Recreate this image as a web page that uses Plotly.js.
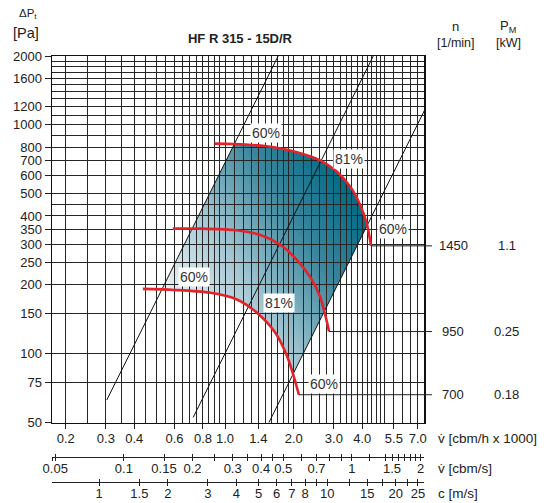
<!DOCTYPE html>
<html>
<head>
<meta charset="utf-8">
<script src="https://cdn.plot.ly/plotly-3.0.1.min.js"></script>
<style>html,body{margin:0;padding:0;background:#fff}#chart{width:546px;height:503px}</style>
</head>
<body>
<div id="chart"></div>
<script>
// ------------------------------------------------------------------ data
// fan curves: volume flow [1000 cbm/h], total pressure [Pa]
const curve1450_Q = [0.90, 1.09, 1.52, 1.99, 2.61, 3.09, 3.53, 3.91, 4.18, 4.37];
const curve1450_P = [828, 825, 806, 767, 700, 626, 539, 448, 372, 296];
const curve950_Q  = [0.59, 0.78, 1.09, 1.42, 1.74, 2.06, 2.36, 2.61, 2.74, 2.86];
const curve950_P  = [352, 352, 347, 331, 300, 258, 217, 178, 150, 125];
const curve700_Q  = [0.436, 0.598, 0.85, 1.127, 1.392, 1.659, 1.877, 2.012, 2.108];
const curve700_P  = [192, 190, 185, 172.6, 150, 123.7, 96.8, 78.3, 66.2];

// system (efficiency) lines, end points
const sysA_Q = [0.303, 1.71];  const sysA_P = [62.8, 2000];   // 60 %
const sysB_Q = [0.725, 4.47];  const sysB_P = [52.7, 2000];   // 81 %
const sysC_Q = [1.50, 7.60];   const sysC_P = [46.4, 1190];   // 60 %

// efficiency labels
const effText = ['60%', '81%', '60%', '60%', '81%', '60%'];
const effQ    = [1.51, 3.50, 5.47, 0.73, 1.72, 2.73];
const effP    = [925, 710, 350, 217, 167, 73.5];

// speed / motor power per curve
const speeds     = ['1450', '950', '700'];
const motorPower = ['1.1', '0.25', '0.18'];

// axis ticks
const qTickVals  = [0.2, 0.3, 0.4, 0.6, 0.8, 1.0, 1.4, 2.0, 3.0, 4.0, 5.5, 7.0];
const qTickText  = ['0.2', '0.3', '0.4', '0.6', '0.8', '1.0', '1.4', '2.0', '3.0', '4.0', '5.5', '7.0'];
const qGridMinor = [0.25, 0.35, 0.45, 0.5, 0.55, 0.65, 0.7, 0.75, 0.85, 0.9, 0.95,
                    1.1, 1.2, 1.3, 1.5, 1.6, 1.7, 1.8, 1.9, 2.2, 2.4, 2.6, 2.8,
                    3.2, 3.4, 3.6, 3.8, 4.2, 4.4, 4.6, 4.8, 5.0, 6.0, 6.5];
const pTickVals  = [50, 75, 100, 150, 200, 250, 300, 350, 400, 500, 600, 700, 800, 1000, 1200, 1600, 2000];
const pTickText  = ['50', '75', '100', '150', '200', '250', '300', '350', '400', '500', '600', '700', '800', '1000', '1200', '1600', '2000'];
const pGridMinor = [450, 900, 1100, 1300, 1400, 1500, 1700, 1800, 1900];
const vsTickVals = [0.0487, 0.05, 0.1, 0.15, 0.2, 0.25, 0.3, 0.35, 0.4, 0.45, 0.5, 0.6, 0.7, 0.8, 0.9, 1, 1.2, 1.4, 1.5, 1.6, 1.7, 1.8, 1.9, 2];
const vsTickText = ['', '0.05', '0.1', '0.15', '0.2', '', '0.3', '', '0.4', '', '0.5', '', '0.7', '', '', '1', '', '', '1.5', '', '', '', '', '2'];
const cTickVals  = [1, 1.5, 2, 3, 4, 5, 6, 7, 8, 9, 10, 12.5, 15, 17.5, 20, 22.5, 25];
const cTickText  = ['1', '1.5', '2', '3', '4', '5', '6', '7', '8', '', '10', '', '15', '', '20', '', '25'];

// ------------------------------------------------------------------ settings
const FONT = 'Liberation Sans, Arial, Helvetica, sans-serif';
const TXT = '#222';
const qMin = 0.1742, qMax = 7.458, pMin = 50, pMax = 2000;
const toCbmPerS = 1 / 3.6;                        // 1000 cbm/h -> cbm/s
const ductArea = Math.PI * 0.315 * 0.315 / 4;     // m^2
const toVel = toCbmPerS / ductArea;               // 1000 cbm/h -> m/s
const L = Math.log10;

// ------------------------------------------------------------------ shaded operating area
function pts(Q, P) { return Q.map((q, i) => [L(q), L(P[i])]); }
function cross(o, a, b) { return (a[0]-o[0])*(b[1]-o[1]) - (a[1]-o[1])*(b[0]-o[0]); }
function hitLine(curve, line) {
  for (let i = 0; i < curve.length - 1; i++) {
    const sa = cross(line[0], line[1], curve[i]);
    const sb = cross(line[0], line[1], curve[i+1]);
    if ((sa <= 0 && sb > 0) || (sa >= 0 && sb < 0)) {
      const t = sa / (sa - sb);
      return {i: i, p: [curve[i][0] + t*(curve[i+1][0]-curve[i][0]), curve[i][1] + t*(curve[i+1][1]-curve[i][1])]};
    }
  }
  return null;
}
const topC = pts(curve1450_Q, curve1450_P), botC = pts(curve700_Q, curve700_P);
const lineA = pts(sysA_Q, sysA_P), lineC = pts(sysC_Q, sysC_P);
const hTA = hitLine(topC, lineA), hTC = hitLine(topC, lineC);
const hBC = hitLine(botC, lineC), hBA = hitLine(botC, lineA);
const region = [hTA.p];
for (let i = hTA.i + 1; i <= hTC.i; i++) region.push(topC[i]);
region.push(hTC.p, hBC.p);
for (let i = hBC.i; i > hBA.i; i--) region.push(botC[i]);
region.push(hBA.p);

function clipHalf(poly, f, keepGE, c) {
  const out = [];
  for (let i = 0; i < poly.length; i++) {
    const A = poly[i], B = poly[(i+1) % poly.length];
    const fa = f(A) - c, fb = f(B) - c;
    const ina = keepGE ? fa >= 0 : fa <= 0;
    const inb = keepGE ? fb >= 0 : fb <= 0;
    if (ina) out.push(A);
    if (ina !== inb) { const t = fa / (fa - fb); out.push([A[0] + t*(B[0]-A[0]), A[1] + t*(B[1]-A[1])]); }
  }
  return out;
}
const GW = 1.6;
const gOf = p => GW * p[0] + p[1];
let gmin = Infinity, gmax = -Infinity;
region.forEach(p => { const g = gOf(p); gmin = Math.min(gmin, g); gmax = Math.max(gmax, g); });
const rampStops = [[0, [236, 243, 246]], [0.35, [165, 199, 211]], [0.7, [58, 134, 156]], [1, [0, 106, 132]]];
function ramp(t) {
  for (let k = 1; k < rampStops.length; k++) {
    if (t <= rampStops[k][0]) {
      const a = rampStops[k-1], b = rampStops[k], f = (t - a[0]) / (b[0] - a[0]);
      return 'rgb(' + [0,1,2].map(j => Math.round(a[1][j] + f*(b[1][j]-a[1][j]))).join(',') + ')';
    }
  }
  return 'rgb(' + rampStops[rampStops.length-1][1].join(',') + ')';
}
const shapes = [];
const NB = 56;
for (let b = 0; b < NB; b++) {
  const lo = gmin + (gmax - gmin) * b / NB - (b === 0 ? 0.01 : 0);
  const hi = gmin + (gmax - gmin) * (b + 1) / NB + (b === NB - 1 ? 0.01 : 0.006);
  let poly = clipHalf(region, gOf, true, lo);
  poly = clipHalf(poly, gOf, false, hi);
  if (poly.length < 3) continue;
  const path = 'M ' + poly.map(p => Math.pow(10, p[0]).toPrecision(7) + ',' + Math.pow(10, p[1]).toPrecision(7)).join(' L ') + ' Z';
  shapes.push({type: 'path', xref: 'x', yref: 'y', layer: 'below', path: path,
               fillcolor: ramp((b + 0.5) / NB), line: {width: 0}});
}

// ------------------------------------------------------------------ traces
const red = '#e3232a';
const traces = [];
[[sysA_Q, sysA_P], [sysB_Q, sysB_P], [sysC_Q, sysC_P]].forEach(s => traces.push({
  x: s[0], y: s[1], type: 'scatter', mode: 'lines', line: {color: '#111', width: 1},
  hoverinfo: 'skip', showlegend: false
}));
const curves = [[curve1450_Q, curve1450_P], [curve950_Q, curve950_P], [curve700_Q, curve700_P]];
curves.forEach(c => traces.push({
  x: c[0], y: c[1], type: 'scatter', mode: 'lines',
  line: {color: red, width: 2.6, shape: 'spline', smoothing: 0.8},
  hoverinfo: 'skip', showlegend: false
}));
// carriers for the secondary bottom scales
[['x2', 1], ['x3', 5], ['x4', 1], ['x5', 5]].forEach(d => traces.push({
  x: [d[1]], y: [100], xaxis: d[0], yaxis: 'y', type: 'scatter', mode: 'markers',
  marker: {opacity: 0}, hoverinfo: 'skip', showlegend: false
}));

// ------------------------------------------------------------------ leaders + labels
const annotations = [];
const rightEdge = 1.0215;
curves.forEach((c, k) => {
  const qe = c[0][c[0].length - 1], pe = c[1][c[1].length - 1];
  shapes.push({type: 'line', xref: 'x', yref: 'y', x0: qe, x1: qMax, y0: pe, y1: pe, line: {color: TXT, width: 1}});
  shapes.push({type: 'line', xref: 'paper', yref: 'y', x0: 1, x1: rightEdge, y0: pe, y1: pe, line: {color: TXT, width: 1}});
  annotations.push({xref: 'paper', yref: 'y', x: 1.078, y: L(pe), text: speeds[k], showarrow: false,
                    xanchor: 'center', yanchor: 'middle', font: {family: FONT, size: 13, color: TXT}});
  annotations.push({xref: 'paper', yref: 'y', x: 1.223, y: L(pe), text: motorPower[k], showarrow: false,
                    xanchor: 'center', yanchor: 'middle', font: {family: FONT, size: 13, color: TXT}});
});
effText.forEach((t, i) => annotations.push({
  xref: 'x', yref: 'y', x: L(effQ[i]), y: L(effP[i]), text: t, showarrow: false,
  bgcolor: '#fff', borderpad: 1, xanchor: 'center', yanchor: 'middle',
  font: {family: FONT, size: 14, color: '#333'}
}));
function hdr(x, y, text, size) {
  annotations.push({xref: 'paper', yref: 'paper', x: x, y: y, text: text, showarrow: false,
                    xanchor: 'center', yanchor: 'middle', font: {family: FONT, size: size, color: TXT}});
}
hdr(-0.064, 1.0957, '\u0394P<sub>t</sub>', 11.5);
hdr(-0.070, 1.0524, '[Pa]', 14.5);
hdr(1.086, 1.0683, 'n', 13);
hdr(1.086, 1.0296, '[1/min]', 12.5);
hdr(1.226, 1.0683, 'P<sub>M</sub>', 13);
hdr(1.226, 1.0296, '[kW]', 12.5);
function unit(y, text) {
  annotations.push({xref: 'paper', yref: 'paper', x: 1.032, y: y, text: text, showarrow: false,
                    xanchor: 'left', yanchor: 'middle', font: {family: FONT, size: 13.5, color: TXT}});
}
unit(0.1298, 'v\u0307 [cbm/h x 1000]');
unit(0.0615, 'v\u0307 [cbm/s]');
unit(0.0023, 'c [m/s]');

// ------------------------------------------------------------------ layout
const qRange = [L(qMin), L(qMax)];
const tickFont = {family: FONT, size: 13, color: TXT};
const GRID = '#262626';
function secAxis(range, vals, text, pos, inside) {
  return {type: 'log', range: range, overlaying: 'x', anchor: 'free', position: pos, side: 'bottom',
          showline: !inside, linecolor: TXT, linewidth: 1, showgrid: false, zeroline: false,
          tickmode: 'array', tickvals: vals, ticktext: text, tickangle: 0,
          ticks: inside ? 'inside' : 'outside', ticklen: 3, tickwidth: 1, tickcolor: TXT,
          showticklabels: !inside, tickfont: tickFont, ticklabelstandoff: -4, fixedrange: true};
}
const vsRange = qRange.map(v => v + L(toCbmPerS));
const cRange = qRange.map(v => v + L(toVel));

const layout = {
  width: 546, height: 503,
  margin: {l: 52, r: 122, t: 56, b: 8, pad: 0},
  paper_bgcolor: '#fff', plot_bgcolor: '#fff',
  font: {family: FONT, color: TXT},
  showlegend: false,
  title: {text: '<b>HF R 315 - 15D/R</b>', x: 240 / 546, xanchor: 'center', y: 1 - 38 / 503, yanchor: 'middle',
          xref: 'container', yref: 'container', font: {family: FONT, size: 13, color: TXT}},
  xaxis: {type: 'log', range: qRange, showline: true, mirror: true, linecolor: '#111', linewidth: 1.5,
          showgrid: true, gridcolor: GRID, gridwidth: 1, zeroline: false,
          tickmode: 'array', tickvals: qTickVals, ticktext: qTickText, tickangle: 0,
          ticks: 'outside', ticklen: 5, tickwidth: 1, tickcolor: TXT, tickfont: tickFont, ticklabelstandoff: -2,
          minor: {tickmode: 'array', tickvals: qGridMinor, showgrid: true, gridcolor: GRID, gridwidth: 1, ticks: ''},
          fixedrange: true},
  yaxis: {type: 'log', range: [L(pMin), L(pMax)], domain: [0.1649, 1],
          showline: true, mirror: true, linecolor: '#111', linewidth: 1.5,
          showgrid: true, gridcolor: GRID, gridwidth: 1, zeroline: false,
          tickmode: 'array', tickvals: pTickVals, ticktext: pTickText,
          ticks: 'outside', ticklen: 6, tickwidth: 1, tickcolor: TXT, tickfont: tickFont,
          minor: {tickmode: 'array', tickvals: pGridMinor, showgrid: true, gridcolor: GRID, gridwidth: 1, ticks: ''},
          fixedrange: true},
  xaxis2: secAxis(vsRange, vsTickVals, vsTickText, 0.0866, false),
  xaxis4: secAxis(vsRange, vsTickVals, vsTickText, 0.0866, true),
  xaxis3: secAxis(cRange, cTickVals, cTickText, 0.0296, false),
  xaxis5: secAxis(cRange, cTickVals, cTickText, 0.0296, true),
  shapes: shapes,
  annotations: annotations
};

Plotly.newPlot('chart', traces, layout, {staticPlot: true, displayModeBar: false});
</script>
</body>
</html>
